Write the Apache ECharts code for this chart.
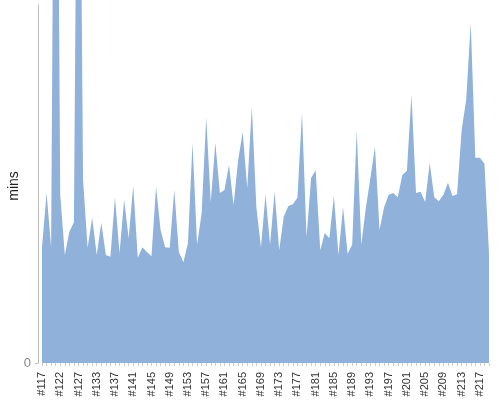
<!DOCTYPE html>
<html>
<head>
<meta charset="utf-8">
<script src="https://cdn.jsdelivr.net/npm/echarts@6/dist/echarts.min.js"></script>
<style>
  html, body { margin: 0; padding: 0; background: #fff; }
  #chart { width: 500px; height: 400px; }
</style>
</head>
<body>
<div id="chart"></div>
<script>
// build labels: a few ids missing at the start, then contiguous #133..#219
var earlyIds = [117, 118, 119, 120, 122, 123, 124, 125, 127, 128, 130, 131];
var categories = earlyIds.map(function (n) { return '#' + n; });
for (var n = 133; n <= 219; n++) categories.push('#' + n);

// minutes per build
var mins = [
  19.4, 28.5, 19.3, 144.6, 28.2, 18.1, 22.0, 23.6, 127.9, 30.7,
  19.3, 24.3, 18.1, 23.5, 18.1, 17.8, 27.8, 18.4, 27.3, 20.9,
  29.7, 17.6, 19.4, 18.6, 17.9, 29.5, 22.3, 19.4, 19.3, 29.0,
  18.6, 16.9, 20.1, 36.9, 19.8, 25.1, 41.1, 27.0, 36.9, 28.5,
  29.0, 33.2, 26.5, 34.0, 38.7, 29.3, 42.9, 26.1, 19.4, 28.2,
  19.8, 28.7, 18.9, 24.5, 26.3, 26.6, 27.7, 41.9, 21.1, 31.0,
  32.3, 18.9, 21.8, 20.9, 28.0, 18.1, 26.1, 18.3, 19.8, 39.0,
  19.8, 26.0, 31.0, 36.2, 22.3, 26.1, 28.2, 28.5, 27.8, 31.5,
  32.2, 44.9, 28.5, 28.7, 27.0, 33.5, 27.8, 27.1, 28.2, 30.2,
  28.0, 28.3, 39.0, 44.1, 57.0, 34.4, 34.4, 33.4, 18.4
];

var yTicks = [0];

var chart = echarts.init(document.getElementById('chart'));
chart.setOption({
  animation: false,
  textStyle: { fontFamily: 'Liberation Sans, Arial, sans-serif' },
  grid: { left: 42, right: 11, top: 5, bottom: 37, containLabel: false, outerBoundsMode: 'none' },
  // y axis title drawn as rotated text so it sits where the original has it
  graphic: [{
    type: 'text',
    x: 14,
    y: 186,
    rotation: Math.PI / 2,
    style: {
      text: 'mins',
      fontSize: 14,
      fontFamily: 'Liberation Sans, Arial, sans-serif',
      fill: '#222',
      align: 'center',
      verticalAlign: 'middle'
    }
  }],
  xAxis: {
    type: 'category',
    data: categories,
    boundaryGap: false,
    offset: 4,
    axisLine: { show: false },
    axisTick: { show: true, interval: 0, length: 3, lineStyle: { color: '#ccc' } },
    axisLabel: { interval: 3, rotate: 90, fontSize: 11, color: '#333', margin: 5 }
  },
  yAxis: {
    type: 'value',
    min: 0,
    max: 60,
    interval: 60,
    offset: 4,
    axisLine: { show: true, lineStyle: { color: '#bbb' } },
    axisTick: { show: true, length: 3, customValues: yTicks, lineStyle: { color: '#bbb' } },
    axisLabel: { customValues: yTicks, fontSize: 13, color: '#888', margin: 7 },
    splitLine: { show: false }
  },
  series: [{
    type: 'line',
    data: mins,
    clip: false,
    showSymbol: false,
    lineStyle: { width: 0, opacity: 0 },
    areaStyle: { color: '#8fb1da', opacity: 1 }
  }]
});
</script>
</body>
</html>
